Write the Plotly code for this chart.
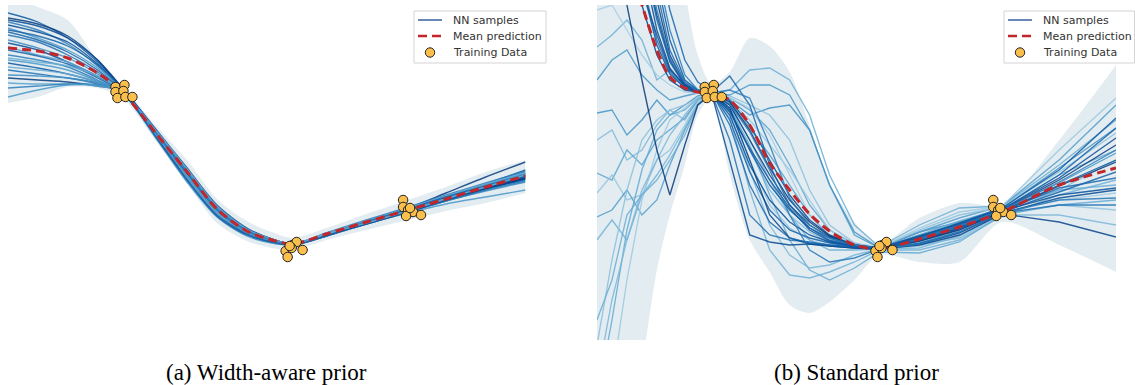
import plotly.graph_objects as go
from plotly.colors import sample_colorscale

# ---------------- training data (shared by both panels) ----------------
train_x = [-1.52, -1.43, -1.52, -1.44, -1.50, -1.42, -1.35,
           0.19, 0.21, 0.26, 0.30, 0.36, 0.25, 0.23,
           1.37, 1.37, 1.42, 1.47, 1.40, 1.55, 1.44]
train_y = [1.71, 1.75, 1.61, 1.63, 1.49, 1.51, 1.51,
           -1.57, -1.69, -1.45, -1.39, -1.55, -1.51, -1.47,
           -0.55, -0.69, -0.75, -0.79, -0.87, -0.85, -0.71]

# ---------------- (a) width-aware prior ----------------
x_a = [-2.6, -2.3, -2.0, -1.7, -1.45, -1.1, -0.8, -0.5, -0.2, 0.05, 0.26, 0.6, 1.0, 1.42, 1.8, 2.2, 2.6]
mean_a = [2.49, 2.43, 2.29, 1.99, 1.61, 0.75, 0.01, -0.73, -1.17, -1.35, -1.43, -1.23, -0.99, -0.75, -0.53, -0.29, -0.07]
upper_a = [3.55, 3.31, 3.05, 2.25, 1.73, 0.91, 0.25, -0.53, -0.97, -1.19, -1.31, -1.11, -0.83, -0.55, -0.29, 0.01, 0.25]
lower_a = [1.39, 1.51, 1.71, 1.69, 1.49, 0.59, -0.23, -1.01, -1.37, -1.51, -1.55, -1.35, -1.15, -0.95, -0.77, -0.61, -0.41]

a_s01 = [3.19, 3.01, 2.69, 2.21, 1.69, 0.81, 0.05, -0.71, -1.15, -1.35, -1.45, -1.27, -1.03, -0.77, -0.51, -0.23, 0.05]
a_s02 = [3.09, 2.97, 2.73, 2.25, 1.67, 0.77, 0.03, -0.69, -1.13, -1.33, -1.43, -1.23, -0.97, -0.71, -0.41, -0.09, 0.21]
a_s03 = [3.01, 2.85, 2.57, 2.13, 1.65, 0.73, -0.03, -0.75, -1.19, -1.37, -1.45, -1.25, -1.01, -0.77, -0.53, -0.31, -0.09]
a_s04 = [2.95, 2.81, 2.61, 2.17, 1.67, 0.79, 0.05, -0.67, -1.13, -1.33, -1.43, -1.25, -1.01, -0.75, -0.51, -0.27, -0.03]
a_s05 = [2.89, 2.69, 2.45, 2.09, 1.65, 0.69, -0.11, -0.83, -1.23, -1.39, -1.45, -1.27, -1.03, -0.79, -0.57, -0.35, -0.15]
a_s06 = [2.81, 2.65, 2.41, 2.05, 1.63, 0.75, -0.01, -0.73, -1.17, -1.35, -1.43, -1.21, -0.97, -0.73, -0.51, -0.27, -0.07]
a_s07 = [2.75, 2.61, 2.35, 2.01, 1.63, 0.79, 0.03, -0.71, -1.15, -1.35, -1.43, -1.23, -0.99, -0.73, -0.49, -0.25, -0.01]
a_s08 = [2.65, 2.49, 2.29, 1.97, 1.61, 0.65, -0.19, -0.89, -1.27, -1.41, -1.45, -1.27, -1.03, -0.79, -0.57, -0.37, -0.19]
a_s09 = [2.59, 2.45, 2.21, 1.93, 1.61, 0.73, -0.03, -0.75, -1.17, -1.37, -1.43, -1.23, -1.01, -0.77, -0.55, -0.33, -0.13]
a_s10 = [2.51, 2.35, 2.21, 1.91, 1.61, 0.77, 0.01, -0.73, -1.17, -1.35, -1.43, -1.23, -0.97, -0.71, -0.47, -0.23, 0.01]
a_s11 = [2.45, 2.33, 2.17, 1.89, 1.59, 0.71, -0.07, -0.79, -1.21, -1.37, -1.45, -1.25, -0.99, -0.75, -0.53, -0.31, -0.11]
a_s12 = [2.35, 2.25, 2.11, 1.85, 1.59, 0.75, -0.01, -0.75, -1.19, -1.37, -1.45, -1.21, -0.95, -0.69, -0.45, -0.21, 0.03]
a_s13 = [2.25, 2.17, 2.05, 1.83, 1.61, 0.79, 0.05, -0.69, -1.13, -1.33, -1.43, -1.25, -1.03, -0.81, -0.63, -0.49, -0.35]
a_s14 = [2.19, 2.09, 1.97, 1.81, 1.61, 0.69, -0.15, -0.87, -1.25, -1.39, -1.45, -1.27, -1.01, -0.77, -0.55, -0.33, -0.13]
a_s15 = [2.11, 2.05, 1.97, 1.81, 1.63, 0.77, 0.01, -0.73, -1.17, -1.35, -1.43, -1.21, -0.97, -0.71, -0.47, -0.23, -0.01]
a_s16 = [2.05, 1.97, 1.89, 1.77, 1.61, 0.73, -0.05, -0.77, -1.19, -1.37, -1.45, -1.23, -0.99, -0.75, -0.51, -0.29, -0.07]
a_s17 = [1.95, 1.93, 1.89, 1.79, 1.63, 0.79, 0.03, -0.71, -1.15, -1.35, -1.43, -1.23, -0.99, -0.75, -0.51, -0.27, -0.05]
a_s18 = [1.89, 1.85, 1.81, 1.73, 1.61, 0.75, -0.03, -0.75, -1.17, -1.35, -1.43, -1.25, -1.01, -0.77, -0.55, -0.33, -0.11]
a_s19 = [1.79, 1.77, 1.77, 1.73, 1.61, 0.71, -0.07, -0.79, -1.21, -1.37, -1.45, -1.23, -0.97, -0.73, -0.49, -0.27, -0.07]
a_s20 = [1.69, 1.73, 1.77, 1.75, 1.63, 0.77, 0.01, -0.73, -1.17, -1.35, -1.43, -1.25, -1.01, -0.79, -0.57, -0.35, -0.17]
a_s21 = [1.51, 1.65, 1.75, 1.75, 1.63, 0.73, -0.05, -0.77, -1.19, -1.37, -1.45, -1.23, -0.99, -0.73, -0.49, -0.25, -0.03]
a_s22 = [3.05, 2.93, 2.69, 2.25, 1.69, 0.83, 0.09, -0.65, -1.11, -1.33, -1.43, -1.25, -1.03, -0.79, -0.55, -0.31, -0.07]
a_s23 = [2.85, 2.73, 2.53, 2.15, 1.67, 0.67, -0.15, -0.85, -1.23, -1.39, -1.45, -1.25, -0.99, -0.73, -0.49, -0.27, -0.05]
a_s24 = [2.29, 2.21, 2.13, 1.93, 1.63, 0.81, 0.07, -0.67, -1.13, -1.33, -1.43, -1.23, -1.01, -0.77, -0.53, -0.29, -0.05]

# ---------------- (b) standard prior ----------------
x_b = [-2.6, -2.45, -2.3, -2.15, -2.0, -1.87, -1.72, -1.59, -1.45, -1.27, -1.07, -0.87, -0.67, -0.47,
       -0.27, -0.02, 0.23, 0.63, 1.03, 1.46, 2.03, 2.6]
mean_b = [6.45, 5.25, 4.25, 3.35, 2.45, 1.91, 1.69, 1.61, 1.59, 1.45, 0.95, 0.19, -0.35, -0.83,
          -1.17, -1.45, -1.53, -1.33, -1.09, -0.79, -0.25, 0.09]
upper_b = [9.45, 9.45, 9.45, 9.45, 7.45, 5.45, 3.65, 2.35, 1.77, 2.01, 2.69, 2.53, 2.01, 0.95,
           -0.21, -0.99, -1.43, -0.91, -0.61, -0.63, 0.65, 2.15]
lower_b = [-10.55, -8.55, -6.55, -3.95, -1.95, -0.85, 0.15, 1.15, 1.49, -0.05, -1.35, -1.99, -2.65, -2.81,
           -2.59, -2.15, -1.65, -1.79, -1.79, -0.99, -1.45, -1.99]

b_d01 = [9.45, 8.45, 7.05, 5.45, 3.85, 2.65, 1.85, 1.65, 1.59, 1.25, 0.45, -0.25, -0.75, -1.11, -1.31, -1.47, -1.51, -1.35, -1.11, -0.77, -0.25, 0.25]
b_d02 = [8.65, 7.45, 6.25, 4.85, 3.45, 2.35, 1.77, 1.63, 1.57, 1.35, 0.65, -0.05, -0.65, -1.05, -1.29, -1.45, -1.51, -1.31, -1.07, -0.75, -0.15, 0.55]
b_d03 = [7.45, 6.65, 5.65, 4.45, 3.05, 2.21, 1.73, 1.61, 1.59, 1.05, 0.01, -0.75, -1.15, -1.31, -1.41, -1.49, -1.53, -1.37, -1.13, -0.79, -0.39, 0.01]
b_d04 = [7.85, 6.45, 5.45, 4.25, 2.85, 2.09, 1.71, 1.61, 1.55, 1.45, 0.95, 0.25, -0.45, -0.95, -1.25, -1.45, -1.51, -1.27, -1.03, -0.73, -0.11, 0.69]
b_d05 = [7.05, 5.85, 4.85, 3.85, 2.65, 2.01, 1.69, 1.61, 1.57, 0.65, -0.85, -1.25, -1.35, -1.39, -1.45, -1.49, -1.53, -1.41, -1.19, -0.81, -0.65, -0.65]
b_d06 = [6.45, 5.45, 4.65, 3.65, 2.75, 2.05, 1.75, 1.63, 1.59, 1.15, 0.15, -0.55, -0.99, -1.25, -1.39, -1.47, -1.51, -1.35, -1.11, -0.77, -0.45, -0.31]
b_d07 = [5.85, 4.65, 4.05, 3.35, 2.35, 1.85, 1.65, 1.61, 1.59, 1.29, 0.25, -0.85, -1.31, -1.43, -1.47, -1.51, -1.53, -1.45, -1.25, -0.83, -0.99, -1.29]
b_d08 = [5.05, 4.25, 3.35, 1.85, 0.45, -0.45, 0.55, 1.35, 1.59, 1.41, 0.85, 0.09, -0.55, -0.99, -1.27, -1.47, -1.51, -1.37, -1.15, -0.79, -0.27, 0.21]
b_d09 = [9.45, 9.45, 7.45, 5.85, 4.45, 3.25, 2.25, 1.81, 1.61, 1.93, 1.35, 0.15, -0.65, -1.11, -1.35, -1.47, -1.51, -1.31, -1.05, -0.75, -0.05, 0.89]
b_d10 = [8.45, 7.45, 6.45, 5.25, 4.05, 2.85, 1.95, 1.65, 1.59, 1.65, 1.49, 0.55, -0.51, -1.05, -1.31, -1.45, -1.51, -1.33, -1.07, -0.75, -0.19, 0.45]
b_d11 = [7.45, 6.45, 5.45, 4.45, 3.15, 2.25, 1.75, 1.63, 1.57, 0.25, -1.25, -1.39, -1.45, -1.43, -1.47, -1.51, -1.53, -1.43, -1.21, -0.81, -0.51, -0.35]
b_d12 = [9.05, 7.85, 6.65, 5.25, 3.65, 2.45, 1.81, 1.63, 1.59, 0.95, -0.25, -0.99, -1.31, -1.41, -1.45, -1.49, -1.51, -1.35, -1.09, -0.77, -0.31, -0.11]
b_d13 = [6.65, 5.65, 4.65, 3.75, 2.55, 1.97, 1.69, 1.61, 1.59, 1.21, 0.49, -0.15, -0.71, -1.15, -1.37, -1.49, -1.53, -1.29, -1.01, -0.71, 0.05, 1.09]
b_d14 = [8.25, 7.05, 5.85, 4.65, 3.25, 2.29, 1.79, 1.63, 1.59, 1.37, 0.81, 0.05, -0.85, -1.55, -1.79, -1.71, -1.53, -1.43, -1.19, -0.81, -0.55, -0.51]

b_l01 = [2.51, 2.75, 3.05, 2.65, 1.85, 2.05, 1.75, 1.65, 1.59, 1.65, 2.05, 2.09, 1.85, 1.15, -0.05, -1.05, -1.49, -1.05, -0.71, -0.67, 0.15, 1.05]
b_l02 = [1.19, 1.25, 0.75, 1.05, 1.45, 1.15, 1.35, 1.53, 1.59, 1.45, 1.15, 1.29, 1.35, 0.85, -0.25, -1.19, -1.51, -1.19, -0.99, -0.71, 0.09, 0.89]
b_l03 = [0.65, 0.85, 0.25, 0.45, 0.95, 1.25, 1.05, 1.45, 1.57, 1.35, 0.45, -0.35, -0.85, -1.19, -1.39, -1.49, -1.51, -1.45, -1.31, -0.85, -0.85, -1.05]
b_l04 = [-0.01, -0.15, 0.45, 0.15, 0.65, 0.85, 1.09, 1.45, 1.59, 1.49, 1.25, 0.85, 0.15, -0.65, -1.15, -1.43, -1.51, -1.27, -0.99, -0.73, -0.05, 0.45]
b_l05 = [-0.41, -0.05, -0.55, -0.45, 0.25, 0.45, 0.95, 1.41, 1.57, 1.25, 0.25, -0.65, -1.11, -1.35, -1.47, -1.51, -1.53, -1.47, -1.27, -0.83, -0.65, -0.75]
b_l06 = [-0.89, -0.75, -0.35, -0.85, -0.55, 0.15, 0.85, 1.35, 1.57, 1.41, 0.89, 0.35, -0.25, -0.85, -1.27, -1.47, -1.51, -1.19, -0.91, -0.67, 0.25, 1.35]
b_l07 = [-1.35, -0.95, -1.35, -0.45, -0.05, 0.35, 0.89, 1.37, 1.57, 1.09, -0.35, -1.55, -2.05, -2.11, -1.99, -1.79, -1.55, -1.55, -1.35, -0.87, -0.45, -0.15]
b_l08 = [-3.45, -1.75, -0.35, 0.65, 1.05, 1.25, 1.35, 1.49, 1.59, 1.53, 1.35, 1.15, 0.65, -0.35, -1.05, -1.41, -1.51, -1.15, -0.85, -0.69, 0.01, 0.79]
b_l09 = [-4.55, -2.95, -1.15, 0.05, 0.85, 1.15, 1.25, 1.49, 1.59, 1.29, 0.55, -0.45, -1.35, -1.95, -2.15, -1.91, -1.59, -1.61, -1.39, -0.85, -0.65, -0.55]
b_l10 = [-5.75, -4.15, -2.15, -0.55, 0.45, 1.05, 1.29, 1.51, 1.59, 1.45, 1.05, 0.55, 0.05, -0.55, -1.15, -1.45, -1.51, -1.11, -0.79, -0.67, 0.45, 1.49]
b_l11 = [-4.15, -2.55, -1.35, -0.35, 0.25, 0.75, 1.15, 1.47, 1.59, 1.21, 0.05, -1.05, -1.65, -1.91, -1.85, -1.65, -1.53, -1.51, -1.27, -0.81, -0.35, 0.25]
b_l12 = [1.85, 2.25, 2.45, 1.95, 1.65, 1.45, 1.53, 1.59, 1.59, 1.55, 1.75, 1.75, 1.55, 0.85, -0.25, -1.25, -1.51, -1.25, -1.03, -0.73, -0.21, 0.39]
b_l13 = [3.25, 3.35, 2.85, 2.35, 1.95, 1.75, 1.61, 1.59, 1.59, 1.49, 1.29, 0.75, -0.05, -0.85, -1.31, -1.49, -1.51, -1.39, -1.17, -0.79, -0.55, -0.41]
b_l14 = [-2.95, -2.15, -0.85, -0.45, -0.15, 0.25, 0.75, 1.35, 1.57, 1.37, 0.65, -0.15, -0.85, -1.35, -1.55, -1.55, -1.53, -1.25, -0.97, -0.73, -0.35, -0.25]

samples_a = [a_s01, a_s02, a_s03, a_s04, a_s05, a_s06, a_s07, a_s08, a_s09, a_s10, a_s11, a_s12,
             a_s13, a_s14, a_s15, a_s16, a_s17, a_s18, a_s19, a_s20, a_s21, a_s22, a_s23, a_s24]
samples_b_dark = [b_d01, b_d02, b_d03, b_d04, b_d05, b_d06, b_d07, b_d08, b_d09, b_d10, b_d11, b_d12, b_d13, b_d14]
samples_b_light = [b_l01, b_l02, b_l03, b_l04, b_l05, b_l06, b_l07, b_l08, b_l09, b_l10, b_l11, b_l12, b_l13, b_l14]

captions = ["(a) Width-aware prior", "(b) Standard prior"]
legend_labels = ["NN samples", "Mean prediction", "Training Data"]

# ---------------- styling ----------------
BAND = "rgb(227,237,241)"
MEAN_RED = "#c2262b"
DOT = "#fbbf4c"
KEY_BLUE = "#3a62a0"
shade_a = [0.85, 0.95, 0.7, 0.9, 0.6, 0.8, 0.75, 0.65, 0.9, 0.55, 0.8, 0.7,
           0.6, 0.85, 0.5, 0.75, 0.65, 0.95, 0.55, 0.7, 0.6, 0.9, 0.8, 0.5]
shade_bd = [0.85, 0.95, 0.8, 0.9, 0.75, 0.88, 0.92, 0.97, 0.8, 0.7, 0.9, 0.78, 0.85, 0.72]
shade_bl = [0.5, 0.62, 0.45, 0.55, 0.4, 0.58, 0.48, 0.42, 0.52, 0.38, 0.46, 0.6, 0.35, 0.5]

W, H = 1135, 385


def blues(v):
    return sample_colorscale("Blues", [v])[0]


fig = go.Figure()


def add_panel(xs, upper, lower, mean, sample_sets, xa, ya):
    # uncertainty band
    fig.add_trace(go.Scatter(x=xs, y=lower, mode="lines", line=dict(width=0, shape="spline", smoothing=0.8),
                             showlegend=False, hoverinfo="skip", xaxis=xa, yaxis=ya))
    fig.add_trace(go.Scatter(x=xs, y=upper, mode="lines", line=dict(width=0, shape="spline", smoothing=0.8),
                             fill="tonexty", fillcolor=BAND, showlegend=False, hoverinfo="skip",
                             xaxis=xa, yaxis=ya))
    for curves, shades, shape in sample_sets:
        for ys, s in zip(curves, shades):
            fig.add_trace(go.Scatter(
                x=xs, y=ys, mode="lines",
                line=dict(color=blues(s), width=1.35, shape=shape, smoothing=0.8),
                opacity=0.85, name="NN samples", showlegend=False, xaxis=xa, yaxis=ya))
    fig.add_trace(go.Scatter(x=xs, y=mean, mode="lines", name="Mean prediction", showlegend=False,
                             line=dict(color=MEAN_RED, width=3, dash="9px,5px", shape="spline", smoothing=0.8),
                             xaxis=xa, yaxis=ya))
    fig.add_trace(go.Scatter(x=train_x, y=train_y, mode="markers", name="Training Data", showlegend=False,
                             marker=dict(size=9.5, color=DOT, line=dict(color="#222222", width=1)),
                             xaxis=xa, yaxis=ya))


add_panel(x_a, upper_a, lower_a, mean_a, [(samples_a, shade_a, "spline")], "x", "y")
add_panel(x_b, upper_b, lower_b, mean_b,
          [(samples_b_light, shade_bl, "linear"), (samples_b_dark, shade_bd, "linear")], "x2", "y2")

# ---------------- compact legend boxes (one per panel) ----------------
shapes, annotations = [], []


def px(v):
    return v / W


def py(v):
    return 1 - v / H


def legend_box(left, right):
    shapes.append(dict(type="rect", xref="paper", yref="paper", layer="above",
                       x0=px(left), x1=px(right), y0=py(63), y1=py(11),
                       line=dict(color="#d4d4d4", width=1), fillcolor="rgba(255,255,255,0.85)"))
    key0, key1 = left + 4, left + 28
    shapes.append(dict(type="line", xref="paper", yref="paper", layer="above",
                       x0=px(key0), x1=px(key1), y0=py(20), y1=py(20),
                       line=dict(color=KEY_BLUE, width=1.5)))
    shapes.append(dict(type="line", xref="paper", yref="paper", layer="above",
                       x0=px(key0), x1=px(key1), y0=py(36), y1=py(36),
                       line=dict(color=MEAN_RED, width=2.5, dash="9px,5px")))
    cx, cy, r = left + 16, 52.5, 4.7
    shapes.append(dict(type="circle", xref="paper", yref="paper", layer="above",
                       x0=px(cx - r), x1=px(cx + r), y0=py(cy + r), y1=py(cy - r),
                       line=dict(color="#222222", width=1), fillcolor=DOT))
    for label, row in zip(legend_labels, [20, 36, 52.5]):
        annotations.append(dict(text=label, x=px(left + 37), y=py(row), xref="paper", yref="paper",
                                showarrow=False, xanchor="left", yanchor="middle",
                                font=dict(family="DejaVu Sans", size=11, color="#333333")))


legend_box(414, 546)
legend_box(1004, 1134.5)

for cap, cx in zip(captions, [266.5, 856]):
    annotations.append(dict(text=cap, x=px(cx), y=py(372), xref="paper", yref="paper",
                            showarrow=False, xanchor="center", yanchor="middle",
                            font=dict(family="Liberation Serif", size=23, color="black")))

ydom = [1 - 340 / H, 1 - 5 / H]
axis_off = dict(visible=False, showgrid=False, zeroline=False, fixedrange=True)

fig.update_layout(
    width=W, height=H, margin=dict(l=0, r=0, t=0, b=0),
    paper_bgcolor="white", plot_bgcolor="white", showlegend=False,
    xaxis=dict(domain=[8 / W, 525.5 / W], range=[-2.6, 2.6], **axis_off),
    yaxis=dict(domain=ydom, range=[-3.35, 3.35], **axis_off),
    xaxis2=dict(domain=[597 / W, 1116 / W], range=[-2.6, 2.6], **axis_off),
    yaxis2=dict(domain=ydom, range=[-3.35, 3.35], **axis_off),
    shapes=shapes,
    annotations=annotations,
)

fig.write_html("out.html")
